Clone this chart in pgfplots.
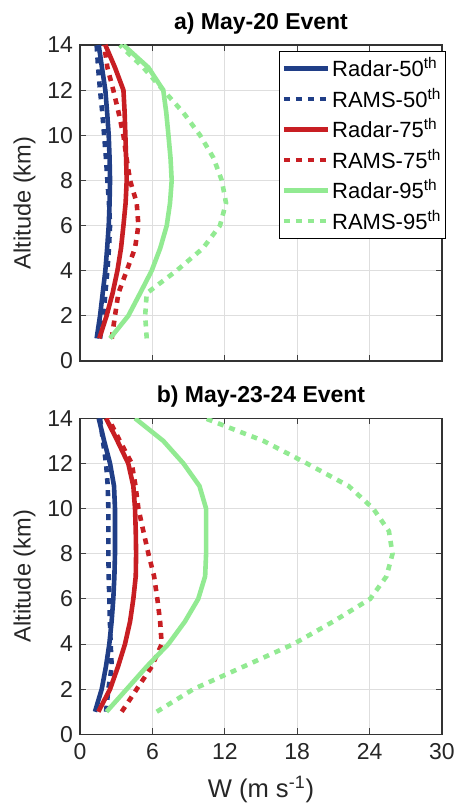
\documentclass[border=0pt]{standalone}
\usepackage{pgfplots}
\pgfplotsset{compat=1.18}
\usepackage{fontspec}
\setmainfont{Liberation Sans}
\definecolor{cblue}{RGB}{32,62,135}
\definecolor{cred}{RGB}{200,30,35}
\definecolor{cgreen}{RGB}{146,234,146}
\pgfplotsset{
 mystyle/.style={
  width=181pt, height=158pt, scale only axis,
  xmin=0,xmax=30, ymin=0,ymax=14,
  xtick={0,6,...,30}, ytick={0,2,...,14},
  grid=major, grid style={black!13, line width=0.5pt},
  tick align=inside, major tick length=3pt,
  tick style={black!75, line width=0.5pt},
  axis line style={line width=0.6pt, black!80},
  tick label style={font=\fontsize{11.5}{13}\selectfont, text=black!85},
  xticklabel style={yshift=-1pt},
  /pgf/number format/assume math mode=true,
  ylabel={Altitude (km)}, label style={font=\fontsize{11.8}{13}\selectfont, text=black!85},
  ylabel shift=-1pt,
  title style={font=\bfseries\fontsize{11.5}{13}\selectfont, yshift=-4pt},
  every axis plot/.append style={line width=2.3pt},
  dots/.style={dash pattern=on 3pt off 3pt},
 },
}
\begin{document}
\begin{tikzpicture}
\path[use as bounding box] (-40pt,-34.35pt) rectangle (189.5pt,367.15pt);
% top panel
\begin{axis}[mystyle, at={(0,186.65pt)}, anchor=south west,
  title={a) May-20 Event}, xticklabels={},
  legend cell align=left,
  legend style={at={(1.011,0.981)}, anchor=north east, draw=black, line width=0.6pt,
    font=\fontsize{11}{13}\selectfont, row sep=2.2pt, inner xsep=1pt, inner ysep=2pt,
    nodes={inner sep=1pt}},
  legend image code/.code={\draw[#1] (0pt,0pt) -- (22pt,0pt);},
]
\addplot[cblue] coordinates {(1.38,1) (1.66,2) (1.88,3) (2.1,4) (2.25,5) (2.38,6) (2.45,7) (2.49,8) (2.45,9) (2.38,10) (2.25,11) (2.1,12) (1.82,13) (1.55,14)};
\addlegendentry{Radar-50\textsuperscript{th}}
\addplot[cblue,dots] coordinates {(1.66,1) (1.95,2) (2.1,3) (2.27,4) (2.4,5) (2.49,6) (2.4,7) (2.27,8) (2.15,9) (2.0,10) (1.85,11) (1.66,12) (1.5,13) (1.38,14)};
\addlegendentry{RAMS-50\textsuperscript{th}}
\addplot[cred] coordinates {(1.6,1) (2.2,2) (2.7,3) (3.1,4) (3.4,5) (3.6,6) (3.78,7) (3.87,8) (3.82,9) (3.76,10) (3.7,11) (3.6,12) (2.9,13) (2.1,14)};
\addlegendentry{Radar-75\textsuperscript{th}}
\addplot[cred,dots] coordinates {(2.63,1) (2.9,2) (3.18,3) (3.87,4) (4.56,5) (4.84,6) (4.7,7) (4.15,8) (3.85,9) (3.6,10) (3.2,11) (2.76,12) (2.27,13) (2.0,14)};
\addlegendentry{RAMS-75\textsuperscript{th}}
\addplot[cgreen] coordinates {(2.49,1) (4.0,2) (4.98,3) (5.94,4) (6.65,5) (7.19,6) (7.46,7) (7.6,8) (7.5,9) (7.33,10) (7.15,11) (6.9,12) (5.67,13) (3.6,14)};
\addlegendentry{Radar-95\textsuperscript{th}}
\addplot[cgreen,dots] coordinates {(5.53,1) (5.4,2) (5.53,3) (8.0,4) (10.2,5) (11.6,6) (12.1,7) (11.75,8) (11.06,9) (9.95,10) (8.57,11) (6.9,12) (5.25,13) (3.3,14)};
\addlegendentry{RAMS-95\textsuperscript{th}}
\end{axis}
% bottom panel
\begin{axis}[mystyle, at={(0,0)}, anchor=south west,
  title={b) May-23-24 Event}, xlabel={W (m s\textsuperscript{-1})}, xlabel shift=1.5pt,
  xlabel style={font=\fontsize{12.8}{14}\selectfont},
]
\addplot[cblue] coordinates {(1.24,1) (1.8,2) (2.15,3) (2.43,4) (2.62,5) (2.76,6) (2.85,7) (2.9,8) (2.9,9) (2.9,10) (2.82,11) (2.49,12) (2.0,13) (1.55,14)};
\addplot[cblue,dots] coordinates {(2.16,1) (2.35,2) (2.63,3) (2.54,4) (2.48,5) (2.43,6) (2.38,7) (2.35,8) (2.35,9) (2.35,10) (2.3,11) (2.16,12) (1.9,13) (1.66,14)};
\addplot[cred] coordinates {(1.52,1) (2.49,2) (3.15,3) (3.73,4) (4.15,5) (4.42,6) (4.62,7) (4.65,8) (4.62,9) (4.56,10) (4.42,11) (4.0,12) (3.1,13) (2.16,14)};
\addplot[cred,dots] coordinates {(3.46,1) (4.7,2) (5.94,3) (6.77,4) (6.64,5) (6.41,6) (6.14,7) (5.67,8) (5.25,9) (4.84,10) (4.6,11) (4.29,12) (3.3,13) (2.35,14)};
\addplot[cgreen] coordinates {(2.2,1) (3.87,2) (5.53,3) (7.33,4) (8.7,5) (9.8,6) (10.37,7) (10.45,8) (10.45,9) (10.45,10) (9.9,11) (8.57,12) (6.9,13) (4.56,14)};
\addplot[cgreen,dots] coordinates {(6.36,1) (9.4,2) (13.55,3) (17.7,4) (21.0,5) (24.05,6) (25.4,7) (25.9,8) (25.6,9) (24.3,10) (22.26,11) (18.8,12) (15.2,13) (10.37,14)};
\end{axis}
\end{tikzpicture}
\end{document}
